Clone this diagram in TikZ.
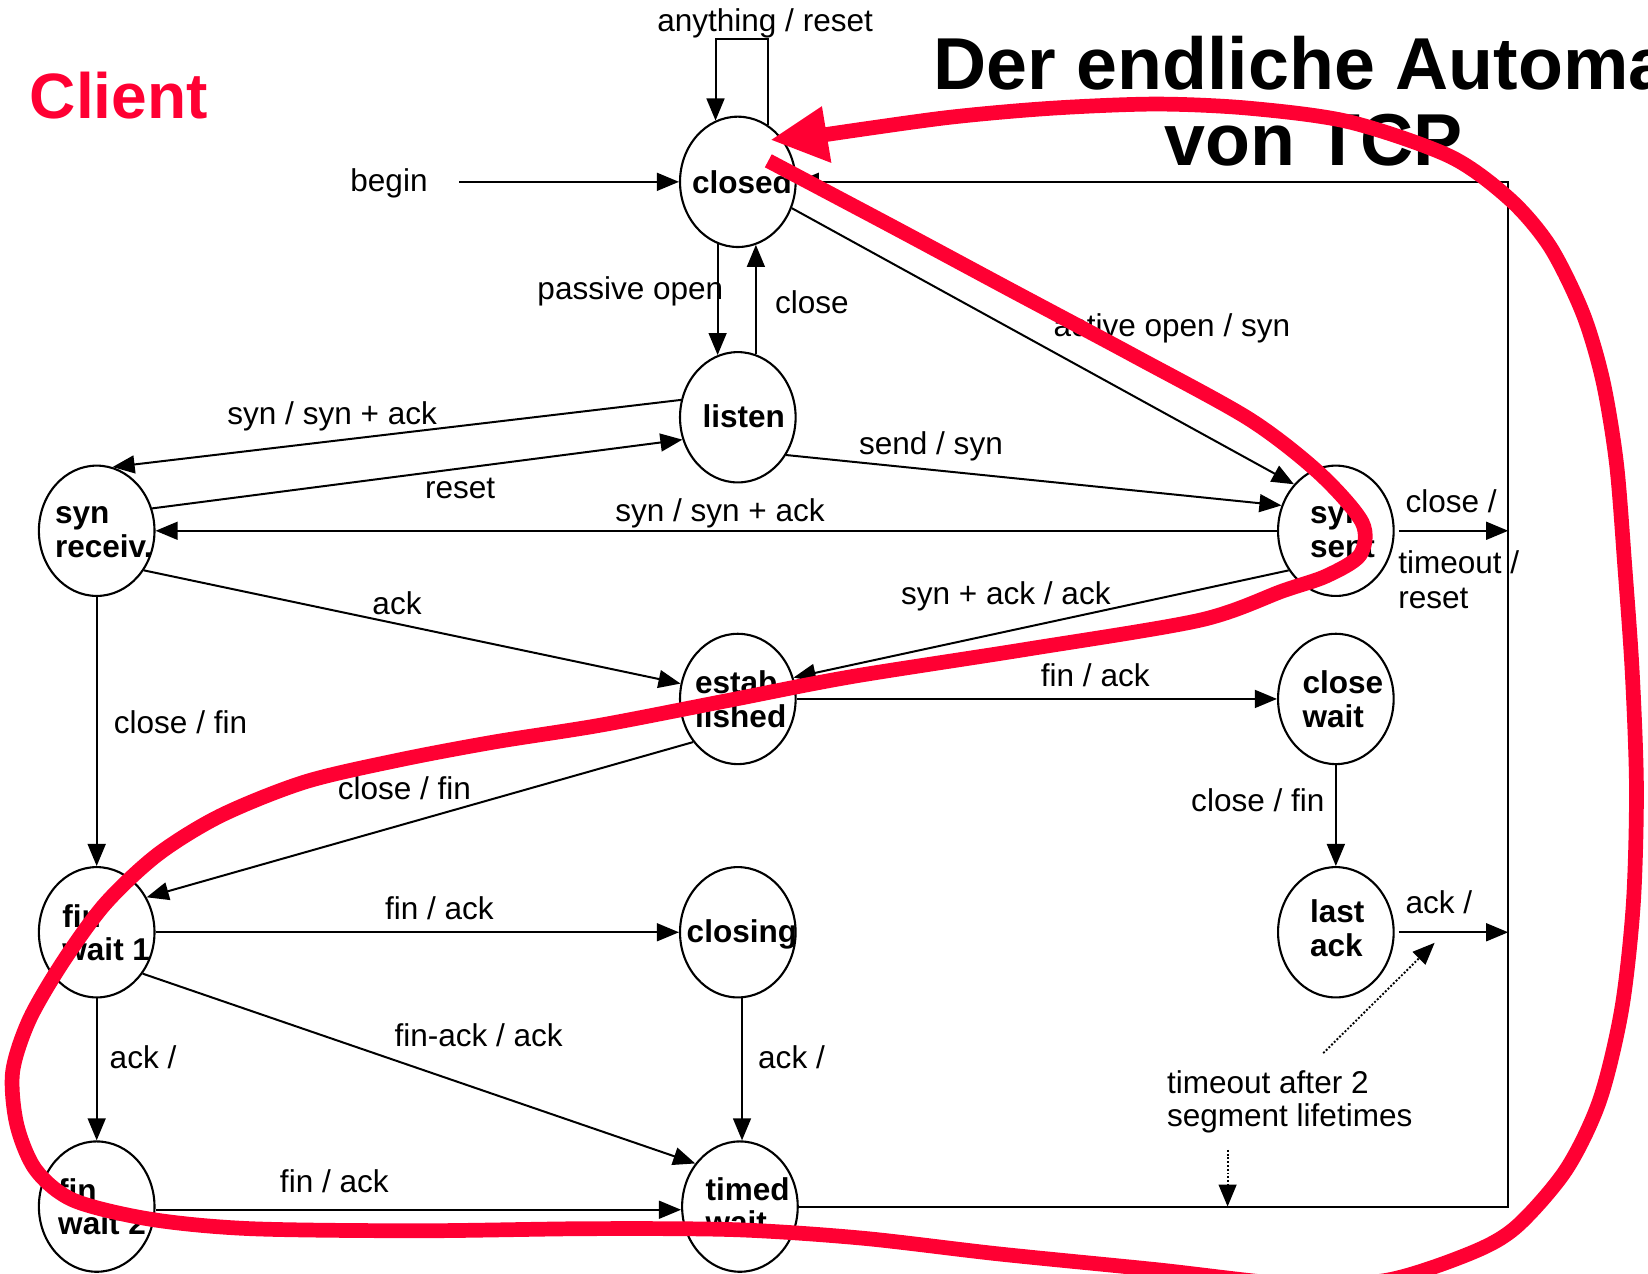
\documentclass[tikz,border=0pt]{standalone}
\usepackage{fontspec}
\setmainfont{Liberation Sans}
\usetikzlibrary{arrows.meta,calc,shapes.geometric}
\definecolor{markred}{RGB}{255,0,51}
\begin{document}
\begin{tikzpicture}[x=0.5pt,y=-0.5pt,
  state/.style={draw, line width=1pt, ellipse, minimum width=55pt, minimum height=62pt, inner sep=0pt},
  stext/.style={anchor=base west, inner sep=0pt, font=\fontsize{15pt}{16pt}\selectfont\bfseries},
  lbl/.style={anchor=base west, inner sep=0pt, font=\fontsize{15pt}{16pt}\selectfont},
  ln/.style={line width=0.95pt},
  arr/.style={ln, -{Triangle[length=10.5pt,width=8.5pt]}},
  dots/.style={line width=0.9pt, dash pattern=on 0.9pt off 0.9pt, -{Triangle[length=10.5pt,width=8.5pt]}},
  redtrace/.style={markred, line width=7pt},
]
\useasboundingbox (0,0) rectangle (1568,1212);
\clip (0,0) rectangle (1568,1212);

% headings
\node[anchor=base west, inner sep=0pt, text=markred, font=\fontsize{30.5pt}{32pt}\selectfont\bfseries] (client) at (28,113) {Client};
\node[anchor=base, inner sep=0pt, font=\fontsize{35pt}{36pt}\selectfont\bfseries] (title1) at (1250,85) {Der endliche Automat};
\node[anchor=base, inner sep=0pt, font=\fontsize{35pt}{36pt}\selectfont\bfseries] (title2) at (1250,157) {von TCP};

% states
\node[state] (closed)  at (702,173) {};
\node[state] (listen)  at (702,397) {};
\node[state] (synr)    at (92,505) {};
\node[state] (synsent) at (1271,505) {};
\node[state] (est)     at (702,665) {};
\node[state] (clwait)  at (1271,665) {};
\node[state] (fw1)     at (92,887) {};
\node[state] (closing) at (702,887) {};
\node[state] (lastack) at (1271,887) {};
\node[state] (fw2)     at (92,1148) {};
\node[state] (tw)      at (704,1148) {};

% state names
\node[stext] (closed-t)  at (658,184) {closed};
\node[stext] (listen-t)  at (668,407) {listen};
\node[stext] (synr-t)    at (52,498) {\begin{tabular}[t]{@{}l@{}}syn\\receiv.\end{tabular}};
\node[stext] (synsent-t) at (1246,498) {\begin{tabular}[t]{@{}l@{}}syn\\sent\end{tabular}};
\node[stext] (est-t)     at (661,660) {\begin{tabular}[t]{@{}l@{}}estab\\lished\end{tabular}};
\node[stext] (clwait-t)  at (1239,660) {\begin{tabular}[t]{@{}l@{}}close\\wait\end{tabular}};
\node[stext] (fw1-t)     at (59,882) {\begin{tabular}[t]{@{}l@{}}fin\\wait 1\end{tabular}};
\node[stext] (closing-t) at (653,897) {closing};
\node[stext] (lastack-t) at (1246,878) {\begin{tabular}[t]{@{}l@{}}last\\ack\end{tabular}};
\node[stext] (fw2-t)     at (55,1143) {\begin{tabular}[t]{@{}l@{}}fin\\wait 2\end{tabular}};
\node[stext] (tw-t)      at (671,1142) {\begin{tabular}[t]{@{}l@{}}timed\\wait\end{tabular}};

% transition labels
\node[lbl] (l-any)    at (625,30)   {anything / reset};
\node[lbl] (l-begin)  at (333,182)  {begin};
\node[lbl] (l-popen)  at (511,285)  {passive open};
\node[lbl] (l-close)  at (737,298)  {close};
\node[lbl] (l-aopen)  at (1002,320) {active open / syn};
\node[lbl] (l-synsa1) at (216,404)  {syn / syn + ack};
\node[lbl] (l-send)   at (817,432)  {send / syn};
\node[lbl] (l-reset)  at (404,474)  {reset};
\node[lbl] (l-synsa2) at (585,496)  {syn / syn + ack};
\node[lbl] (l-cls)    at (1337,488) {close /};
\node[lbl] (l-tmo)    at (1330,546) {timeout /};
\node[lbl] (l-rst)    at (1330,579) {reset};
\node[lbl] (l-ack1)   at (354,585)  {ack};
\node[lbl] (l-saa)    at (857,575)  {syn + ack / ack};
\node[lbl] (l-fa1)    at (990,653)  {fin / ack};
\node[lbl] (l-cf1)    at (108,698)  {close / fin};
\node[lbl] (l-cf2)    at (321,761)  {close / fin};
\node[lbl] (l-cf3)    at (1133,772) {close / fin};
\node[lbl] (l-fa2)    at (366,875)  {fin / ack};
\node[lbl] (l-ack2)   at (1337,869) {ack /};
\node[lbl] (l-faa)    at (375,996)  {fin-ack / ack};
\node[lbl] (l-ack3)   at (104,1017) {ack /};
\node[lbl] (l-ack4)   at (721,1017) {ack /};
\node[lbl] (l-fa3)    at (266,1135) {fin / ack};
\node[lbl] (l-2msl)   at (1110,1040) {\begin{tabular}[t]{@{}l@{}}timeout after 2\\segment lifetimes\end{tabular}};

% auxiliary points
\coordinate (loop)    at (705,37);
\coordinate (beginpt) at (437,173);
\coordinate (boxtr)   at (1435,173);
\coordinate (boxbr)   at (1435,1148);
\coordinate (dotA)    at (1259,1002);
\coordinate (dotB)    at (1365,897);
\coordinate (dotC)    at (1168,1094);

% transitions
\draw[arr] (closed.62) |- (loop) -| (closed.110);
\draw[arr] (beginpt) -- (closed.west);
\draw[arr] (closed.252) -- (listen.108);
\draw[arr] (listen.74) -- (closed.286);
\draw[arr] (closed.-26) -- (synsent.132);
\draw[arr] (listen.163) -- (synr.76);
\draw[arr] (synr.22) -- (listen.202);
\draw[arr] (listen.-38) -- (synsent.155);
\draw[arr] (synsent.west) -- (synr.east);
\draw[arr] (synr.-40) -- (est.165);
\draw[arr] (synsent.220) -- (est.21);
\draw[arr] (est.east) -- (clwait.west);
\draw[arr] (synr.south) -- (fw1.north);
\draw[arr] (est.224) -- (fw1.35);
\draw[arr] (clwait.south) -- (lastack.north);
\draw[arr] (fw1.east) -- (closing.west);
\draw[arr] (fw1.-42) -- (tw.136);
\draw[arr] (fw1.south) -- (fw2.north);
\draw[arr] ([xshift=2pt]closing.south) -- ([xshift=2pt]closing.south |- tw.north);
\draw[arr] ([yshift=-1.5pt]fw2.east) -- ([yshift=-1.5pt]tw.west);
\draw[arr] (tw.east) -- (boxbr) -- (boxtr) -- (closed.east);
\draw[arr] ([xshift=2pt]synsent.east) -- (synsent.east -| boxbr);
\draw[arr] ([xshift=2pt]lastack.east) -- (lastack.east -| boxbr);
\draw[dots] (dotA) -- (dotB);
\draw[dots] (dotC) -- (dotC |- boxbr);

% red hand-drawn trace of the client path
\draw[redtrace, line join=round] plot[smooth, tension=0.5] coordinates {
  (731,153) (850,216) (960,275) (1080,339) (1189,399) (1255,450)
  (1296,497) (1294,528) (1262,548) (1221,562) (1142,590) (975,618)
  (809,644) (690,667) (571,690) (470,706) (380,723) (290,744)
  (210,776) (150,813) (100,860) (60,915) (28,970) (12,1020)
  (16,1070) (34,1113) (70,1142) (143,1160) (238,1169) (400,1171)
  (560,1169) (700,1170) (820,1178) (950,1193) (1100,1208) (1230,1222)
  (1320,1218) (1400,1192) (1443,1167) (1490,1113) (1522,1047)
  (1543,960) (1554,860) (1557,750) (1553,640) (1546,540) (1538,441)
  (1525,362) (1506,298) (1475,235) (1437,190) (1380,149) (1284,116)
  (1189,103) (1100,99) (1000,103) (900,112) (786,128)};
\fill[markred] (734,133) -- (782,101) -- (791,155) -- cycle;
\end{tikzpicture}
\end{document}
